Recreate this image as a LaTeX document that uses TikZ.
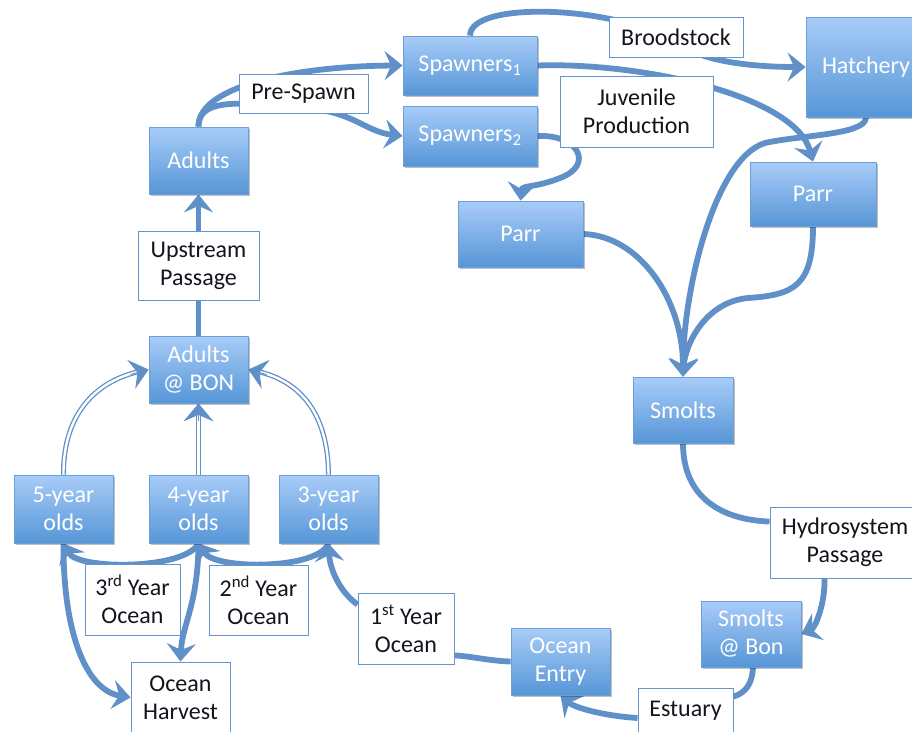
\documentclass[tikz,border=0pt]{standalone}
\usepackage{fontspec}
\setmainfont{Carlito}
\usetikzlibrary{arrows.meta,shadows,backgrounds,calc}
\definecolor{lineblue}{RGB}{95,145,200}
\definecolor{boxtop}{RGB}{168,204,248}
\definecolor{boxbot}{RGB}{86,150,215}
\definecolor{boxedge}{RGB}{110,160,215}
\definecolor{labedge}{RGB}{100,150,205}
\definecolor{txt}{RGB}{20,20,30}
\begin{document}
\begin{tikzpicture}[x=1pt,y=-1pt,
  bluebox/.style={draw=boxedge, line width=0.8pt, top color=boxtop, bottom color=boxbot,
    text=white, align=center, inner sep=0pt, font=\fontsize{24}{28}\selectfont,
    drop shadow={shadow xshift=2pt, shadow yshift=-2pt, opacity=0.25, fill=black}},
  labbox/.style={draw=labedge, line width=0.9pt, fill=white, text=txt, align=center,
    inner sep=0pt, font=\fontsize{24}{28}\selectfont},
  conn/.style={draw=lineblue, line width=5.8pt},
  tipped/.style={-{Stealth[length=18pt,width=29pt,inset=6.5pt]}},
  dbl/.style={draw=lineblue, line width=1.3pt, double=white, double distance=2.4pt},
  dbltip/.style={draw=lineblue, line width=1pt, -{Stealth[length=18pt,width=30pt,inset=6.5pt]}}
]
\useasboundingbox (0,0) rectangle (912,731);

% blue boxes
\node[bluebox, minimum width=99pt, minimum height=67pt] (adults) at (198.5,160.5) {Adults};
\node[bluebox, minimum width=134pt, minimum height=59pt] (sp1) at (470,65.5) {Spawners\textsubscript{1}};
\node[bluebox, minimum width=134pt, minimum height=60pt] (sp2) at (470,136) {Spawners\textsubscript{2}};
\node[bluebox, minimum width=120pt, minimum height=100pt] (hatch) at (866,67) {Hatchery};
\node[bluebox, minimum width=125pt, minimum height=66pt] (parr1) at (520.5,234) {Parr};
\node[bluebox, minimum width=126pt, minimum height=64pt] (parr2) at (813,194) {Parr};
\node[bluebox, minimum width=100pt, minimum height=66pt] (smolts) at (683,410) {Smolts};
\node[bluebox, minimum width=99pt, minimum height=67pt] (bon) at (198.5,369.5) {Adults\\@ BON};
\node[bluebox, minimum width=99pt, minimum height=68pt] (y5) at (63.5,509) {5-year\\olds};
\node[bluebox, minimum width=99pt, minimum height=68pt] (y4) at (198.5,509) {4-year\\olds};
\node[bluebox, minimum width=99pt, minimum height=68pt] (y3) at (328.5,509) {3-year\\olds};
\node[bluebox, minimum width=99pt, minimum height=67pt] (oe) at (560.5,661.5) {Ocean\\Entry};
\node[bluebox, minimum width=100pt, minimum height=66pt] (sab) at (751,634) {Smolts\\@ Bon};

% label boxes
\node[labbox, minimum width=129pt, minimum height=39pt] (pre) at (303.5,94) {Pre-Spawn};
\node[labbox, minimum width=134pt, minimum height=40pt] (brood) at (676,37) {Broodstock};
\node[labbox, minimum width=153pt, minimum height=71pt] (juv) at (636.5,111.5) {Juvenile\\Production};
\node[labbox, minimum width=121pt, minimum height=69pt] (up) at (198.5,265.5) {Upstream\\Passage};
\node[labbox, minimum width=95pt, minimum height=71pt] (ys3) at (132.5,599.5) {3\textsuperscript{rd} Year\\Ocean};
\node[labbox, minimum width=99pt, minimum height=70pt] (ys2) at (258.5,600) {2\textsuperscript{nd} Year\\Ocean};
\node[labbox, minimum width=96pt, minimum height=71pt] (ys1) at (406,628.5) {1\textsuperscript{st} Year\\Ocean};
\node[labbox, minimum width=99pt, minimum height=71pt] (harv) at (180.5,697.5) {Ocean\\Harvest};
\node[labbox, minimum width=150pt, minimum height=71pt] (hydro) at (845,542.5) {Hydrosystem\\Passage};
\node[labbox, minimum width=95pt, minimum height=46pt] (est) at (685.5,711) {Estuary};

\begin{pgfonlayer}{background}
% adults -> spawners (pre-spawn)
\draw[conn,tipped] (adults.north) .. controls (198,85) and (300,66) .. (sp1.west);
\draw[conn,tipped] (adults.north) .. controls (198,95) and (250,103) .. (320,110) .. controls (355,115) and (368,132) .. (sp2.west);
% broodstock
\draw[conn,tipped] (sp1.north) .. controls (470,0) and (620,5) .. (680,45) .. controls (710,65) and (770,67) .. (hatch.west);
% juvenile production
\draw[conn,tipped] (sp1.east) .. controls (640,62) and (795,95) .. (parr2.north);
\draw[conn,tipped] (sp2.east) .. controls (578,134) and (595,165) .. (560,178) .. controls (535,188) and (522,185) .. (parr1.north);
% to smolts
\draw[conn,tipped] (hatch.south) .. controls (866,135) and (800,135) .. (765,143) .. controls (715,158) and (683,290) .. (smolts.north);
\draw[conn,tipped] (parr1.east) .. controls (640,236) and (683,300) .. (smolts.north);
\draw[conn,tipped] (parr2.south) .. controls (813,285) and (795,295) .. (748,298) .. controls (705,302) and (685,345) .. (smolts.north);
% downstream
\draw[conn] (smolts.south) .. controls (683,500) and (725,520) .. ($(hydro.north west)+(0,15)$);
\draw[conn,tipped] ($(hydro.south west)+(55,0)$) .. controls (825,605) and (815,628) .. (sab.east);
\draw[conn] ($(sab.south)+(2,0)$) .. controls (752,685) and (745,693) .. ($(est.north east)+(0,9)$);
\draw[conn,tipped] ($(est.west)+(0,7)$) .. controls (605,716) and (575,708) .. (oe.south);
\draw[conn] (oe.west) .. controls (490,661) and (470,656) .. ($(ys1.south east)+(0,-9)$);
\draw[conn,tipped] ($(ys1.north west)+(0,12)$) .. controls (340,592) and (330,570) .. (y3.south);
% ocean years
\draw[conn,tipped] (y3.south) .. controls (318,570) and (215,570) .. (y4.south);
\draw[conn,tipped] (y4.south) .. controls (185,570) and (78,570) .. (y5.south);
\draw[conn,tipped] (y4.south) .. controls (198,605) and (182,625) .. (harv.north);
\draw[conn,tipped] (y5.south) .. controls (63,630) and (85,690) .. (harv.west);
% upstream
\draw[conn,tipped] (bon.north) -- (adults.south);
% returns (double lines)
\draw[dbl, shorten >=9pt] (y5.north) .. controls (63,410) and (100,380) .. (bon.west);
\draw[dbltip] ($(bon.west)+(-18,5)$) -- (bon.west);
\draw[dbl, shorten >=9pt] (y4.north) -- (bon.south);
\draw[dbltip] ($(bon.south)+(0,18)$) -- (bon.south);
\draw[dbl, shorten >=9pt] (y3.north) .. controls (328,410) and (297,380) .. (bon.east);
\draw[dbltip] ($(bon.east)+(18,5)$) -- (bon.east);
\end{pgfonlayer}
\end{tikzpicture}
\end{document}
